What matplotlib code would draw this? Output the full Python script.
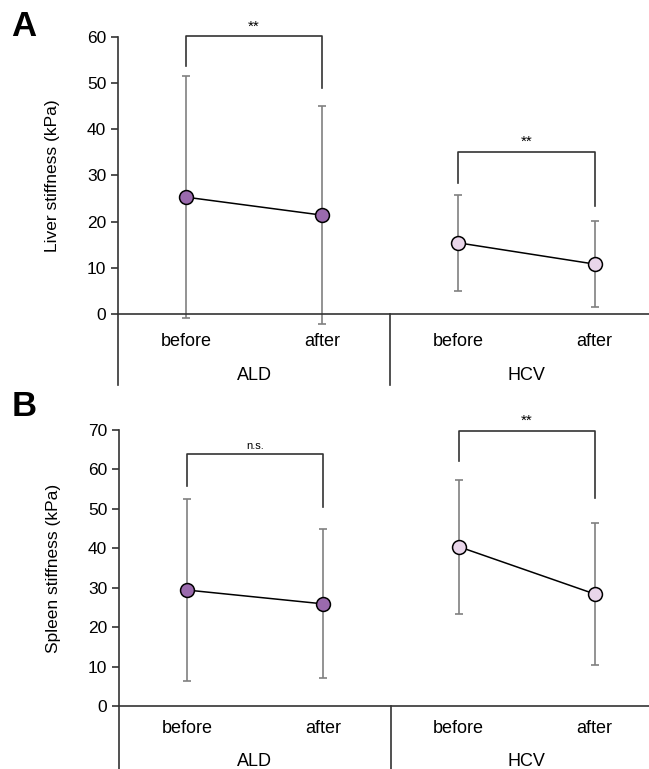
import matplotlib
matplotlib.use('Agg')
from matplotlib import pyplot as plt

plt.rcParams['font.family'] = ['Liberation Sans', 'DejaVu Sans']

groups = ['ALD', 'HCV']
timepoints = ['before', 'after']

# liver stiffness (kPa), mean and SD
liver_ald_mean = [25.3, 21.4]
liver_ald_sd = [26.2, 23.6]
liver_hcv_mean = [15.4, 10.8]
liver_hcv_sd = [10.4, 9.4]

# spleen stiffness (kPa), mean and SD
spleen_ald_mean = [29.4, 25.9]
spleen_ald_sd = [23.2, 18.9]
spleen_hcv_mean = [40.4, 28.4]
spleen_hcv_sd = [17.0, 18.0]

# significance brackets: (top, left end, right end) and label
liver_brackets = [(60.2, 53.7, 49.0), (35.1, 28.4, 23.4)]
liver_sig = ['**', '**']
spleen_brackets = [(64.0, 55.8, 50.5), (69.8, 62.2, 52.8)]
spleen_sig = ['n.s.', '**']

colors = ['#9a6aad', '#e9d6ea']


def panel(ax, means, sds, brackets, sigs, ymax, ystep, ymin, ylabel,
          tick_off, group_off):
    xs = [[0.5, 1.5], [2.5, 3.5]]
    for i in range(2):
        ax.errorbar(xs[i], means[i], yerr=sds[i], fmt='none', ecolor='#808080',
                    elinewidth=1.2, capsize=3, capthick=1.2, zorder=2, clip_on=False)
        ax.plot(xs[i], means[i], color='black', lw=1.1, zorder=3)
        ax.plot(xs[i], means[i], 'o', ms=10, mfc=colors[i], mec='black',
                mew=1.1, zorder=4, linestyle='none', clip_on=False)
        top, l, r = brackets[i]
        ax.plot([xs[i][0], xs[i][0], xs[i][1], xs[i][1]], [l, top, top, r],
                color='#333333', lw=1.2, clip_on=False)
        fs = 8 if sigs[i] == 'n.s.' else 11
        ax.annotate(sigs[i], (sum(xs[i]) / 2, top), xytext=(0, 2),
                    textcoords='offset points', ha='center', va='bottom',
                    fontsize=fs, annotation_clip=False)
        for x, t in zip(xs[i], timepoints):
            ax.annotate(t, (x, 0), xytext=(0, -tick_off), textcoords='offset points',
                        ha='center', va='center', fontsize=13)
        ax.annotate(groups[i], (sum(xs[i]) / 2, 0), xytext=(0, -group_off),
                    textcoords='offset points', ha='center', va='center', fontsize=13)

    ax.set_xlim(0, 3.9)
    ax.set_ylim(ymin, ymax)
    ax.axhline(0, color='#333333', lw=1.2, clip_on=False)
    ax.plot([2, 2], [0, ymin], color='#333333', lw=1.2, clip_on=False)
    ax.set_yticks(range(0, ymax + 1, ystep))
    ax.set_xticks([])
    for s in ['top', 'right', 'bottom']:
        ax.spines[s].set_visible(False)
    ax.spines['left'].set_color('#333333')
    ax.spines['left'].set_linewidth(1.2)
    ax.tick_params(axis='y', labelsize=12.5, length=5, width=1.2, color='#333333')
    ax.set_ylabel(ylabel, fontsize=12.5)
    ax.yaxis.set_label_coords(-0.11, (0 - ymin) / (ymax - ymin) +
                              (ymax / (ymax - ymin)) / 2)


fig = plt.figure(figsize=(6.49, 7.69), dpi=100)
ax1 = fig.add_axes([118 / 649, 1 - 385 / 769, 531 / 649, 348 / 769])
ax2 = fig.add_axes([119 / 649, 0, 530 / 649, 339 / 769])

panel(ax1, [liver_ald_mean, liver_hcv_mean], [liver_ald_sd, liver_hcv_sd],
      liver_brackets, liver_sig, 60, 10, -15.4, 'Liver stiffness (kPa)', 20, 44)
panel(ax2, [spleen_ald_mean, spleen_hcv_mean], [spleen_ald_sd, spleen_hcv_sd],
      spleen_brackets, spleen_sig, 70, 10, -16.0, 'Spleen stiffness (kPa)', 16, 40)

fig.text(24 / 649, 1 - 27 / 769, 'A', fontsize=25, fontweight='bold', ha='center', va='center')
fig.text(24 / 649, 1 - 407 / 769, 'B', fontsize=25, fontweight='bold', ha='center', va='center')

fig.savefig('out.png', dpi=100)
